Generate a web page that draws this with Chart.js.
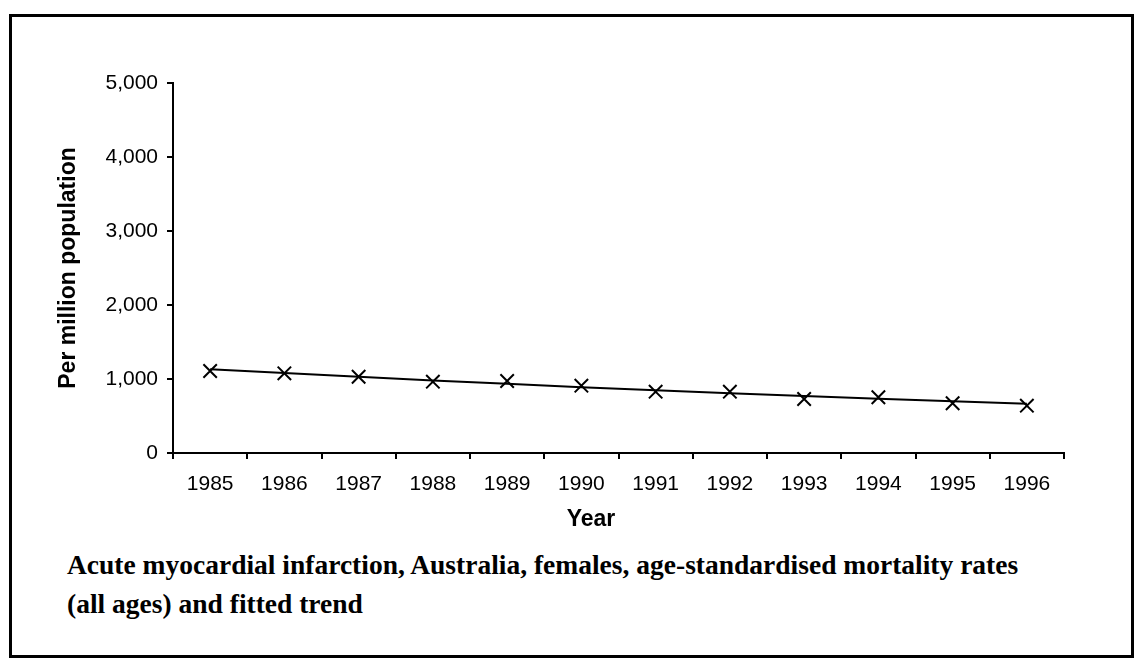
<!DOCTYPE html>
<html>
<head>
<meta charset="utf-8">
<script src="https://cdn.jsdelivr.net/npm/chart.js@4"></script>
<style>
  html, body { margin: 0; padding: 0; background: #fff; }
  #page { position: relative; width: 1144px; height: 664px; overflow: hidden; background: #fff; }
  #frame { position: absolute; left: 9px; top: 14px; width: 1119px; height: 638px; border: 3px solid #000; }
  #chart { position: absolute; left: 0; top: 0; }
  #xtitle { position: absolute; left: 541px; width: 100px; top: 504px; text-align: center; font-family: "Liberation Sans", Arial, sans-serif; font-weight: bold; font-size: 23px; line-height: 28px; color: #000; }
  #caption { position: absolute; left: 67px; top: 545px; font-family: "Liberation Serif", "Times New Roman", serif; font-weight: bold; font-size: 27.5px; line-height: 39px; color: #000; white-space: nowrap; }
</style>
</head>
<body>
<div id="page">
  <div id="frame"></div>
  <canvas id="chart" width="1144" height="540"></canvas>
  <div id="xtitle">Year</div>
  <div id="caption">Acute myocardial infarction, Australia, females, age-standardised mortality rates<br>(all ages) and fitted trend</div>
</div>
<script>
const years = ['1985','1986','1987','1988','1989','1990','1991','1992','1993','1994','1995','1996'];
const rates = [1108, 1077, 1031, 964, 973, 910, 829, 829, 730, 753, 672, 640];
const trend = [1133, 1081, 1030, 981, 935, 890, 848, 808, 770, 733, 699, 665];
const yTicks = [0, 1000, 2000, 3000, 4000, 5000];
const yTitle = 'Per million population';

const axisFont = { family: 'Liberation Sans, Arial, sans-serif', size: 21 };
const titleFont = { family: 'Liberation Sans, Arial, sans-serif', size: 23, weight: 'bold' };

new Chart(document.getElementById('chart'), {
  type: 'line',
  data: {
    labels: years,
    datasets: [
      {
        label: 'Rate',
        data: rates,
        showLine: false,
        pointStyle: 'crossRot',
        pointRadius: 9.5,
        pointHoverRadius: 9.5,
        pointBorderWidth: 2,
        borderColor: '#000',
        backgroundColor: '#000'
      },
      {
        label: 'Trend',
        data: trend,
        borderColor: '#000',
        borderWidth: 2,
        pointRadius: 0,
        tension: 0,
        fill: false
      }
    ]
  },
  options: {
    responsive: false,
    animation: false,
    events: [],
    layout: { padding: { left: 51, top: 83, right: 80, bottom: 5 } },
    plugins: { legend: { display: false }, tooltip: { enabled: false } },
    scales: {
      x: {
        offset: true,
        grid: { offset: true, drawOnChartArea: false, drawTicks: true, tickLength: 6, color: '#000', lineWidth: 2 },
        border: { color: '#000', width: 2 },
        ticks: { color: '#000', font: axisFont, padding: 13, maxRotation: 0, autoSkip: false },
        title: { display: false },
        afterFit: (s) => { s.height = 82; }
      },
      y: {
        min: 0,
        max: 5000,
        afterBuildTicks: (s) => { s.ticks = yTicks.map(v => ({ value: v })); },
        grid: { drawOnChartArea: false, drawTicks: true, tickLength: 6, color: '#000', lineWidth: 2 },
        border: { color: '#000', width: 2 },
        ticks: { color: '#000', font: axisFont, padding: 9, callback: (v) => Number(v).toLocaleString('en-US') },
        title: { display: true, text: yTitle, color: '#000', font: titleFont, padding: { top: 4, bottom: 4 } },
        afterFit: (s) => { s.width = 122; }
      }
    }
  }
});
</script>
</body>
</html>
